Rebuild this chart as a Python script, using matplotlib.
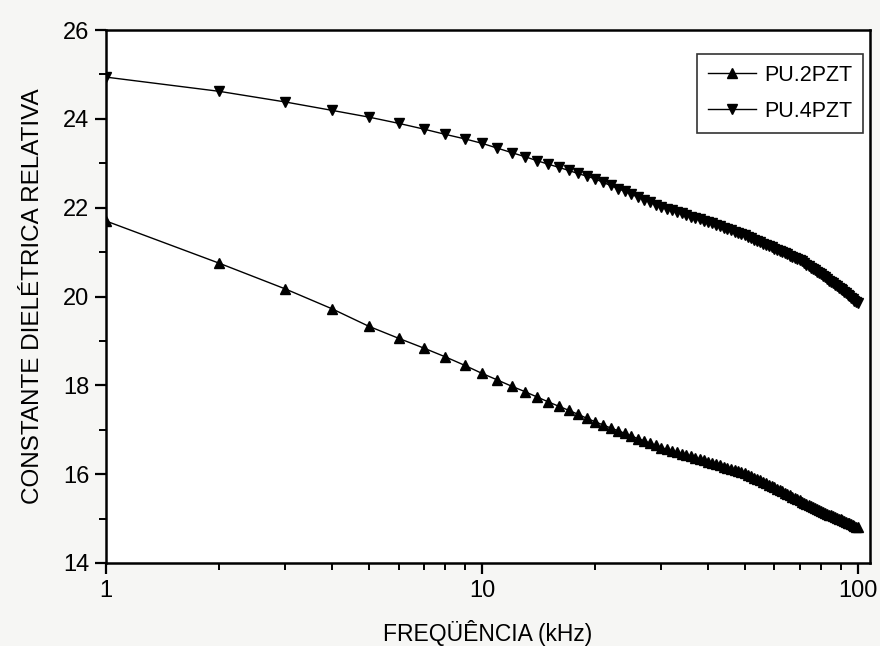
import matplotlib.pyplot as plt
from matplotlib.ticker import FixedLocator, NullFormatter

# frequency in kHz (1..100) and relative dielectric constant
freq = list(range(1, 101))

pu2pzt = [21.70, 20.75, 20.17, 19.72, 19.33, 19.06, 18.84, 18.64, 18.45, 18.27,
          18.12, 17.98, 17.86, 17.74, 17.63, 17.53, 17.44, 17.35, 17.26, 17.18,
          17.11, 17.04, 16.98, 16.92, 16.86, 16.80, 16.75, 16.70, 16.65, 16.60,
          16.56, 16.53, 16.49, 16.46, 16.43, 16.40, 16.37, 16.34, 16.31, 16.28,
          16.25, 16.23, 16.20, 16.17, 16.15, 16.12, 16.10, 16.08, 16.05, 16.03,
          15.99, 15.96, 15.92, 15.89, 15.86, 15.83, 15.79, 15.76, 15.73, 15.70,
          15.67, 15.64, 15.61, 15.58, 15.55, 15.52, 15.49, 15.46, 15.44, 15.41,
          15.38, 15.36, 15.33, 15.31, 15.29, 15.26, 15.24, 15.22, 15.19, 15.17,
          15.15, 15.13, 15.11, 15.09, 15.07, 15.05, 15.03, 15.02, 15.00, 14.98,
          14.96, 14.94, 14.92, 14.91, 14.89, 14.87, 14.85, 14.83, 14.82, 14.80]

pu4pzt = [24.94, 24.62, 24.38, 24.19, 24.04, 23.90, 23.77, 23.65, 23.55, 23.45,
          23.34, 23.24, 23.15, 23.06, 22.98, 22.91, 22.84, 22.77, 22.71, 22.65,
          22.57, 22.50, 22.43, 22.37, 22.30, 22.24, 22.18, 22.13, 22.07, 22.02,
          21.98, 21.94, 21.91, 21.87, 21.84, 21.80, 21.77, 21.74, 21.71, 21.68,
          21.65, 21.61, 21.58, 21.55, 21.52, 21.49, 21.46, 21.43, 21.41, 21.38,
          21.35, 21.32, 21.28, 21.25, 21.22, 21.19, 21.16, 21.14, 21.11, 21.08,
          21.05, 21.02, 21.00, 20.97, 20.95, 20.92, 20.89, 20.87, 20.84, 20.82,
          20.79, 20.75, 20.72, 20.69, 20.65, 20.62, 20.59, 20.56, 20.53, 20.50,
          20.47, 20.43, 20.40, 20.36, 20.33, 20.30, 20.27, 20.23, 20.20, 20.17,
          20.14, 20.10, 20.07, 20.04, 20.01, 19.97, 19.94, 19.91, 19.88, 19.85]

x_ticks = [1, 10, 100]
x_tick_labels = ['1', '10', '100']
y_ticks = [14, 16, 18, 20, 22, 24, 26]

plt.rcParams['font.family'] = ['Liberation Sans', 'DejaVu Sans']

fig = plt.figure(figsize=(8.8, 6.46), dpi=100, facecolor='#f6f6f4')
ax = fig.add_axes([0.1205, 0.1285, 0.868, 0.825])
ax.set_facecolor('white')

ax.plot(freq, pu2pzt, color='black', lw=1.0, marker='^', ms=7, label='PU.2PZT')
ax.plot(freq, pu4pzt, color='black', lw=1.0, marker='v', ms=7, label='PU.4PZT')

ax.set_xscale('log')
ax.set_xlim(1, 107.7)
ax.set_ylim(14, 26)

ax.xaxis.set_major_locator(FixedLocator(x_ticks))
ax.set_xticklabels(x_tick_labels)
ax.xaxis.set_minor_locator(FixedLocator([m * d for d in (1, 10) for m in range(2, 10)]))
ax.xaxis.set_minor_formatter(NullFormatter())
ax.set_yticks(y_ticks)
ax.yaxis.set_minor_locator(FixedLocator([15, 17, 19, 21, 23, 25]))

ax.tick_params(which='major', direction='out', length=8, width=1.6, labelsize=17,
               top=False, right=False, pad=4)
ax.tick_params(which='minor', direction='out', length=5, width=1.4, top=False, right=False)
for s in ax.spines.values():
    s.set_linewidth(1.8)

ax.set_xlabel('FREQÜÊNCIA (kHz)', fontsize=16.5, labelpad=13)
ax.set_ylabel('CONSTANTE DIELÉTRICA RELATIVA', fontsize=17.5, labelpad=14)

leg = ax.legend(loc='upper right', bbox_to_anchor=(0.991, 0.955), borderaxespad=0,
                fontsize=15.5, frameon=True, fancybox=False, edgecolor='black',
                handlelength=2.2, handletextpad=0.4, borderpad=0.5, labelspacing=0.7)
leg.get_frame().set_linewidth(1.2)

plt.savefig('out.png', dpi=100, facecolor=fig.get_facecolor())
